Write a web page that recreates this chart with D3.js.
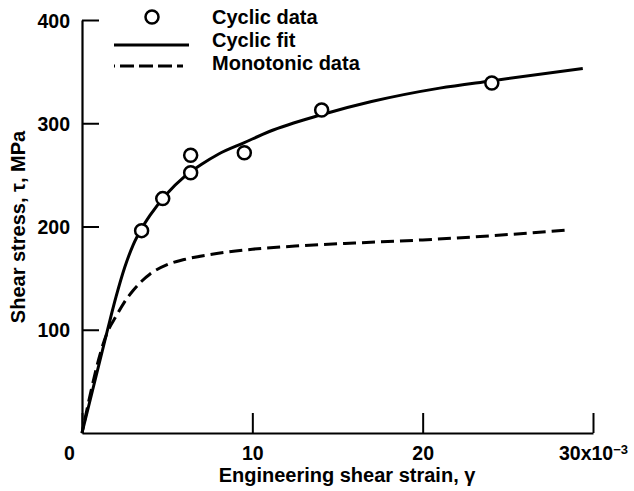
<!DOCTYPE html>
<html><head><meta charset="utf-8">
<script src="https://cdn.jsdelivr.net/npm/d3@7"></script>
<style>
body{margin:0;background:#fff;}
text{font-family:"Liberation Sans",Arial,Helvetica,sans-serif;font-weight:bold;fill:#000;}
</style></head>
<body><svg id="c" width="634" height="491"></svg>
<script>
// Data (strain in 1e-3, stress in MPa)
const cyclicDataX = [3.5, 4.74, 6.38, 6.38, 9.53, 14.07, 24.06];
const cyclicDataY = [196, 227, 269, 252, 271.5, 312.8, 339];
const cyclicFitX = [0, 1.5, 2.0, 2.5, 3.0, 3.5, 4.0, 5.0, 6.0, 7.0, 8.0, 9.5, 11.0, 14.0, 17.0, 21.0, 24.0, 29.4];
const cyclicFitY = [0, 100, 132, 160, 182, 198, 211, 232, 248, 260, 270, 281, 292, 308, 321, 334, 341, 353];
const monoX = [0, 1.5, 2.0, 2.5, 3.0, 3.5, 4.0, 5.0, 6.0, 8.0, 10.0, 13.0, 16.0, 20.0, 24.0, 28.4];
const monoY = [0, 98, 113, 127, 138, 147, 154, 163, 168, 174, 178, 181.5, 184, 187, 191, 196.5];
const xTicks = [0, 10, 20, 30];
const yTicks = [100, 200, 300, 400];
const legendLabels = ["Cyclic data", "Cyclic fit", "Monotonic data"];
const xTitle = "Engineering shear strain, γ";
const yTitle = "Shear stress, τ, MPa";

const svg = d3.select("#c");
const x = d3.scaleLinear().domain([0, 30]).range([82, 593]);
const y = d3.scaleLinear().domain([0, 400]).range([433, 20]);

// axes
const xAxis = d3.axisBottom(x).tickValues(xTicks).tickSizeInner(-20).tickSizeOuter(0).tickPadding(13)
  .tickFormat(d => d === 30 ? "" : d);
const gx = svg.append("g").attr("transform", "translate(0,433)").call(xAxis);
const yAxis = d3.axisLeft(y).tickValues(yTicks).tickSizeInner(-17).tickSizeOuter(0).tickPadding(12);
const gy = svg.append("g").attr("transform", "translate(82,0)").call(yAxis);
[gx, gy].forEach(g => {
  g.select(".domain").attr("stroke", "#000").attr("stroke-width", 2.2);
  g.selectAll(".tick line").attr("stroke", "#000").attr("stroke-width", 2);
  g.selectAll(".tick text").style("font-size", "19.5px").attr("font-family", null);
});
gx.selectAll(".tick text").filter(d => d === 0).attr("x", -13);
gx.selectAll(".tick text").filter(d => d === 30).each(function() {
  const t = d3.select(this);
  t.append("tspan").text("30x10");
  t.append("tspan").text("−3").attr("dy", "-0.45em").style("font-size", "13px");
});
gy.selectAll(".tick text").attr("dy", "0.36em");

// titles
svg.append("text").attr("x", 347).attr("y", 482).attr("text-anchor", "middle")
  .style("font-size", "20px").text(xTitle);
svg.append("text").attr("transform", "translate(25,227) rotate(-90)").attr("text-anchor", "middle")
  .style("font-size", "20px").text(yTitle);

// curves
const line = d3.line().x(d => x(d[0])).y(d => y(d[1])).curve(d3.curveMonotoneX);
svg.append("path").datum(monoX.map((v, i) => [v, monoY[i]]))
  .attr("d", line).attr("fill", "none").attr("stroke", "#000").attr("stroke-width", 3)
  .attr("stroke-dasharray", "13,6").attr("stroke-dashoffset", 120);
svg.append("path").datum(cyclicFitX.map((v, i) => [v, cyclicFitY[i]]))
  .attr("d", line).attr("fill", "none").attr("stroke", "#000").attr("stroke-width", 3);
svg.selectAll("circle.pt").data(cyclicDataX.map((v, i) => [v, cyclicDataY[i]])).enter()
  .append("circle").attr("class", "pt")
  .attr("cx", d => x(d[0])).attr("cy", d => y(d[1])).attr("r", 6.5)
  .attr("fill", "#fff").attr("stroke", "#000").attr("stroke-width", 2.5);

// legend
const lg = svg.append("g");
lg.append("circle").attr("cx", 152).attr("cy", 17).attr("r", 6.5)
  .attr("fill", "#fff").attr("stroke", "#000").attr("stroke-width", 2.5);
lg.append("line").attr("x1", 114).attr("x2", 189).attr("y1", 45).attr("y2", 45)
  .attr("stroke", "#000").attr("stroke-width", 3);
lg.append("line").attr("x1", 114).attr("x2", 183).attr("y1", 66).attr("y2", 66)
  .attr("stroke", "#000").attr("stroke-width", 3).attr("stroke-dasharray", "14,5").attr("stroke-dashoffset", 13);
legendLabels.forEach((t, i) => {
  lg.append("text").attr("x", 212).attr("y", [24, 47, 70][i]).style("font-size", "20px").text(t);
});
</script></body></html>
